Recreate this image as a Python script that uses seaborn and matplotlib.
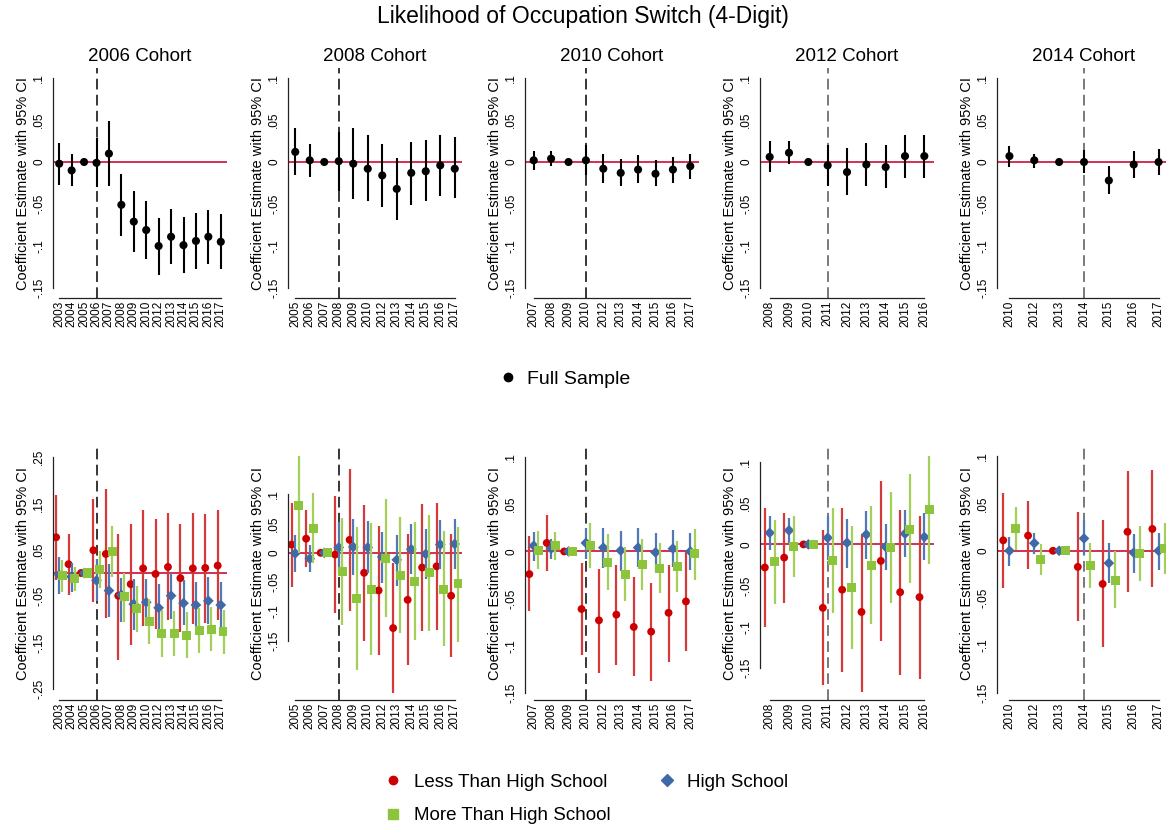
import numpy as np
import pandas as pd
import matplotlib
matplotlib.use("Agg")
import matplotlib.pyplot as plt
import seaborn as sns
from matplotlib.lines import Line2D

sns.set_style("white")
plt.rcParams['font.family'] = ['Liberation Sans', 'DejaVu Sans']
plt.rcParams['text.color'] = 'black'
plt.rcParams['axes.labelcolor'] = 'black'
plt.rcParams['xtick.color'] = 'black'
plt.rcParams['ytick.color'] = 'black'

nan = np.nan

# ---------------- data ----------------
# 2006 cohort
years06 = ['2003', '2004', '2005', '2006', '2007', '2008', '2009', '2010', '2012', '2013', '2014', '2015', '2016', '2017']
full06 = [-0.002, -0.010, 0.0, -0.001, 0.010, -0.051, -0.071, -0.081, -0.100, -0.089, -0.099, -0.094, -0.089, -0.095]
full06_lo = [-0.027, -0.029, nan, -0.030, -0.028, -0.088, -0.107, -0.116, -0.134, -0.122, -0.132, -0.127, -0.121, -0.127]
full06_hi = [0.023, 0.009, nan, 0.028, 0.049, -0.014, -0.035, -0.047, -0.067, -0.056, -0.066, -0.061, -0.057, -0.062]
lths06 = [0.077, 0.019, 0.0, 0.049, 0.041, -0.049, -0.024, 0.010, -0.002, 0.013, -0.011, 0.010, 0.011, 0.016]
lths06_lo = [-0.015, -0.047, nan, -0.062, -0.097, -0.187, -0.155, -0.115, -0.121, -0.101, -0.128, -0.110, -0.107, -0.101]
lths06_hi = [0.168, 0.085, nan, 0.160, 0.182, 0.085, 0.105, 0.135, 0.116, 0.130, 0.105, 0.130, 0.128, 0.135]
hs06 = [-0.004, -0.008, 0.0, -0.016, -0.038, -0.047, -0.067, -0.063, -0.075, -0.049, -0.065, -0.069, -0.060, -0.069]
hs06_lo = [-0.045, -0.042, nan, -0.060, -0.095, -0.105, -0.122, -0.115, -0.126, -0.100, -0.113, -0.117, -0.110, -0.117]
hs06_hi = [0.035, 0.021, nan, 0.030, 0.019, -0.011, -0.014, -0.014, -0.024, -0.001, -0.015, -0.019, -0.009, -0.019]
mhs06 = [-0.006, -0.011, 0.0, 0.008, 0.046, -0.051, -0.077, -0.105, -0.131, -0.131, -0.135, -0.124, -0.122, -0.127]
mhs06_lo = [-0.040, -0.038, nan, -0.033, -0.009, -0.105, -0.128, -0.153, -0.180, -0.178, -0.183, -0.173, -0.169, -0.174]
mhs06_hi = [0.029, 0.014, nan, 0.048, 0.101, -0.001, -0.029, -0.057, -0.080, -0.081, -0.085, -0.076, -0.074, -0.080]

# 2008 cohort
years08 = ['2005', '2006', '2007', '2008', '2009', '2010', '2012', '2013', '2014', '2015', '2016', '2017']
full08 = [0.012, 0.002, 0.0, 0.001, -0.002, -0.008, -0.016, -0.032, -0.013, -0.011, -0.004, -0.008]
full08_lo = [-0.015, -0.018, nan, -0.034, -0.044, -0.047, -0.053, -0.069, -0.051, -0.047, -0.040, -0.043]
full08_hi = [0.040, 0.022, nan, 0.036, 0.040, 0.032, 0.022, 0.005, 0.024, 0.026, 0.032, 0.030]
lths08 = [0.014, 0.024, 0.0, -0.003, 0.022, -0.034, -0.064, -0.128, -0.080, -0.025, -0.023, -0.073]
lths08_lo = [-0.058, -0.024, nan, -0.102, -0.099, -0.150, -0.174, -0.239, -0.190, -0.133, -0.132, -0.177]
lths08_hi = [0.085, 0.073, nan, 0.097, 0.142, 0.081, 0.045, -0.017, 0.032, 0.083, 0.085, 0.032]
hs08 = [-0.001, -0.010, 0.0, 0.009, 0.010, 0.009, -0.007, -0.012, 0.006, -0.002, 0.014, 0.015]
hs08_lo = [-0.032, -0.033, nan, -0.035, -0.038, -0.035, -0.051, -0.056, -0.036, -0.044, -0.028, -0.027]
hs08_hi = [0.030, 0.013, nan, 0.053, 0.057, 0.054, 0.035, 0.031, 0.049, 0.041, 0.056, 0.057]
mhs08 = [0.081, 0.041, 0.0, -0.032, -0.077, -0.062, -0.010, -0.038, -0.048, -0.034, -0.062, -0.053]
mhs08_lo = [-0.001, -0.017, nan, -0.123, -0.199, -0.173, -0.109, -0.136, -0.148, -0.133, -0.159, -0.152]
mhs08_hi = [0.165, 0.101, nan, 0.060, 0.044, 0.050, 0.091, 0.061, 0.052, 0.064, 0.037, 0.044]

# 2010 cohort
years10 = ['2007', '2008', '2009', '2010', '2012', '2013', '2014', '2015', '2016', '2017']
full10 = [0.002, 0.004, 0.0, 0.002, -0.008, -0.013, -0.009, -0.014, -0.009, -0.005]
full10_lo = [-0.009, -0.005, nan, -0.016, -0.025, -0.029, -0.025, -0.029, -0.025, -0.020]
full10_hi = [0.013, 0.013, nan, 0.020, 0.009, 0.004, 0.008, 0.002, 0.006, 0.010]
lths10 = [-0.024, 0.009, 0.0, -0.061, -0.073, -0.067, -0.080, -0.085, -0.065, -0.053]
lths10_lo = [-0.063, -0.021, nan, -0.110, -0.129, -0.120, -0.132, -0.137, -0.117, -0.105]
lths10_hi = [0.016, 0.039, nan, -0.012, -0.019, -0.014, -0.027, -0.033, -0.014, 0.0]
hs10 = [0.006, 0.003, 0.0, 0.009, 0.004, 0.001, 0.004, -0.001, 0.003, 0.0]
hs10_lo = [-0.010, -0.008, nan, -0.008, -0.018, -0.021, -0.017, -0.022, -0.017, -0.020]
hs10_hi = [0.021, 0.013, nan, 0.025, 0.025, 0.022, 0.025, 0.019, 0.023, 0.020]
mhs10 = [0.001, 0.006, 0.0, 0.006, -0.012, -0.024, -0.014, -0.018, -0.016, -0.002]
mhs10_lo = [-0.019, -0.009, nan, -0.018, -0.041, -0.052, -0.041, -0.044, -0.043, -0.030]
mhs10_hi = [0.022, 0.021, nan, 0.030, 0.018, 0.005, 0.013, 0.009, 0.011, 0.024]

# 2012 cohort
years12 = ['2008', '2009', '2010', '2011', '2012', '2013', '2014', '2015', '2016']
full12 = [0.006, 0.011, 0.0, -0.004, -0.012, -0.003, -0.006, 0.007, 0.007]
full12_lo = [-0.012, -0.002, nan, -0.028, -0.039, -0.029, -0.031, -0.019, -0.019]
full12_hi = [0.025, 0.025, nan, 0.020, 0.017, 0.023, 0.020, 0.032, 0.032]
lths12 = [-0.028, -0.016, 0.0, -0.077, -0.055, -0.082, -0.020, -0.058, -0.064]
lths12_lo = [-0.100, -0.071, nan, -0.171, -0.155, -0.179, -0.117, -0.159, -0.163]
lths12_hi = [0.044, 0.038, nan, 0.017, 0.044, 0.013, 0.077, 0.042, 0.034]
hs12 = [0.014, 0.017, 0.0, 0.008, 0.002, 0.012, -0.003, 0.013, 0.009]
hs12_lo = [-0.007, 0.002, nan, -0.019, -0.029, -0.018, -0.031, -0.015, -0.019]
hs12_hi = [0.034, 0.032, nan, 0.034, 0.031, 0.041, 0.025, 0.042, 0.038]
mhs12 = [-0.021, -0.003, 0.0, -0.020, -0.052, -0.026, -0.004, 0.018, 0.042]
mhs12_lo = [-0.072, -0.040, nan, -0.083, -0.127, -0.097, -0.071, -0.047, -0.024]
mhs12_hi = [0.030, 0.035, nan, 0.044, 0.022, 0.046, 0.064, 0.085, 0.107]

# 2014 cohort
years14 = ['2010', '2012', '2013', '2014', '2015', '2016', '2017']
full14 = [0.007, 0.002, 0.0, 0.0, -0.022, -0.003, 0.0]
full14_lo = [-0.006, -0.007, nan, -0.013, -0.038, -0.019, -0.016]
full14_hi = [0.019, 0.010, nan, 0.014, -0.005, 0.013, 0.016]
lths14 = [0.011, 0.016, 0.0, -0.017, -0.035, 0.020, 0.023]
lths14_lo = [-0.039, -0.019, nan, -0.074, -0.101, -0.044, -0.038]
lths14_hi = [0.061, 0.052, nan, 0.041, 0.032, 0.084, 0.085]
hs14 = [0.0, 0.008, 0.0, 0.013, -0.013, -0.002, 0.0]
hs14_lo = [-0.016, -0.003, nan, -0.004, -0.034, -0.023, -0.020]
hs14_hi = [0.015, 0.019, nan, 0.032, 0.008, 0.018, 0.019]
mhs14 = [0.024, -0.009, 0.0, -0.016, -0.031, -0.003, 0.002]
mhs14_lo = [0.001, -0.026, nan, -0.039, -0.060, -0.032, -0.025]
mhs14_hi = [0.046, 0.007, nan, 0.008, 0.0, 0.026, 0.029]

cohort_names = ['2006 Cohort', '2008 Cohort', '2010 Cohort', '2012 Cohort', '2014 Cohort']
event_years = ['2006', '2008', '2010', '2011', '2014']
group_labels = ['Less Than High School', 'High School', 'More Than High School']

cohorts = [
    (years06, (full06, full06_lo, full06_hi),
     [(lths06, lths06_lo, lths06_hi), (hs06, hs06_lo, hs06_hi), (mhs06, mhs06_lo, mhs06_hi)]),
    (years08, (full08, full08_lo, full08_hi),
     [(lths08, lths08_lo, lths08_hi), (hs08, hs08_lo, hs08_hi), (mhs08, mhs08_lo, mhs08_hi)]),
    (years10, (full10, full10_lo, full10_hi),
     [(lths10, lths10_lo, lths10_hi), (hs10, hs10_lo, hs10_hi), (mhs10, mhs10_lo, mhs10_hi)]),
    (years12, (full12, full12_lo, full12_hi),
     [(lths12, lths12_lo, lths12_hi), (hs12, hs12_lo, hs12_hi), (mhs12, mhs12_lo, mhs12_hi)]),
    (years14, (full14, full14_lo, full14_hi),
     [(lths14, lths14_lo, lths14_hi), (hs14, hs14_lo, hs14_hi), (mhs14, mhs14_lo, mhs14_hi)]),
]

# ---------------- styling ----------------
W, H = 1166, 826
fig = plt.figure(figsize=(W / 100, H / 100), dpi=100)

zero_red = '#cf1f45'
marker_cols = ['#cc0000', '#3f69a8', '#8cc43c']
ci_cols = ['#d43a3a', '#5079b8', '#a3cf5a']
markers = ['o', 'D', 's']
msizes = [32, 30, 42]
offsets = [-0.25, 0.0, 0.25]
dash_cols = ['k', 'k', 'k', '#555555', '#555555']

lefts = [53, 288, 525, 760, 997]
ax_width = 174
top_row = (68, 298)
bot_row = (446, 700)

top_ylim = (-0.1619, 0.1119)
bot_ylims = [(-0.2737, 0.2737), (-0.2503, 0.1816), (-0.1574, 0.1117), (-0.1888, 0.1194), (-0.1574, 0.1105)]
std_ticks = [-0.15, -0.1, -0.05, 0, 0.05, 0.1]
std_labels = ['-.15', '-.1', '-.05', '0', '.05', '.1']
wide_ticks = [-0.25, -0.15, -0.05, 0.05, 0.15, 0.25]
wide_labels = ['-.25', '-.15', '-.05', '.05', '.15', '.25']


def px_axes(left, top, bottom):
    return fig.add_axes([left / W, 1 - bottom / H, ax_width / W, (bottom - top) / H])


def style_axis(ax, years, event, ylim, ticks, labels, dcol):
    n = len(years)
    ax.set_xlim(-0.5, n - 0.5)
    ax.set_ylim(*ylim)
    ax.set_xticks(range(n))
    ax.set_xticklabels(years, rotation=90, fontsize=8.5)
    ax.set_yticks(ticks)
    ax.set_yticklabels(labels, rotation=90, va='center', fontsize=8.5)
    ax.spines['top'].set_visible(False)
    ax.spines['right'].set_visible(False)
    ax.spines['left'].set_bounds(min(ticks), max(ticks))
    ax.spines['bottom'].set_bounds(0, n - 1)
    for s in ['left', 'bottom']:
        ax.spines[s].set_color('#222222')
        ax.spines[s].set_linewidth(0.9)
    ax.tick_params(axis='x', length=0, pad=2)
    ax.tick_params(axis='y', length=4, width=0.8, pad=1.5, color='#222222')
    ax.axhline(0, color=zero_red, lw=1.3, zorder=1)
    ax.axvline(years.index(event), color=dcol, lw=1.1, dashes=(7, 3.5), zorder=1)
    ax.set_ylabel('Coefficient Estimate with 95% CI', fontsize=10.5)
    ax.yaxis.set_label_coords(-0.13, 0.5)
    ax.grid(False)


for i, (years, full, groups) in enumerate(cohorts):
    pos = np.arange(len(years))

    # top row: full sample
    ax = px_axes(lefts[i], *top_row)
    coef, lo, hi = full
    ax.vlines(pos, lo, hi, color='k', lw=1.5, zorder=2)
    sns.scatterplot(x=pos, y=coef, color='k', s=34, edgecolor='none', ax=ax, zorder=3)
    style_axis(ax, years, event_years[i], top_ylim, std_ticks, std_labels, dash_cols[i])
    ax.set_title(cohort_names[i], fontsize=13.5, pad=5)

    # bottom row: by education
    ax = px_axes(lefts[i], *bot_row)
    for g, (coef, lo, hi) in enumerate(groups):
        x = pos + offsets[g]
        ax.vlines(x, lo, hi, color=ci_cols[g], lw=1.6, zorder=2 + g)
        sns.scatterplot(x=x, y=coef, color=marker_cols[g], marker=markers[g], s=msizes[g],
                        edgecolor='none', ax=ax, zorder=2.5 + g)
    if i == 0:
        style_axis(ax, years, event_years[i], bot_ylims[i], wide_ticks, wide_labels, dash_cols[i])
    else:
        style_axis(ax, years, event_years[i], bot_ylims[i], std_ticks, std_labels, dash_cols[i])

fig.text(0.5, 1 - 17 / H, 'Likelihood of Occupation Switch (4-Digit)', ha='center', va='center', fontsize=16.5)

# legends
full_handle = [Line2D([], [], marker='o', color='k', ls='none', markersize=6)]
fig.legend(full_handle, ['Full Sample'], loc='center', bbox_to_anchor=(564 / W, 1 - 379 / H),
           frameon=False, fontsize=14, handletextpad=0.5, handlelength=1)

grp_handles = [Line2D([], [], marker=markers[g], color=marker_cols[g], ls='none',
                      markersize=[6, 6, 6.5][g]) for g in range(3)]
order = [0, 2, 1]
fig.legend([grp_handles[k] for k in order], [group_labels[k] for k in order], ncol=2,
           loc='center', bbox_to_anchor=(586 / W, 1 - 799 / H), frameon=False, fontsize=13.5,
           handletextpad=0.6, handlelength=1, columnspacing=2.5, labelspacing=0.85)

fig.savefig('out.png', dpi=100)
